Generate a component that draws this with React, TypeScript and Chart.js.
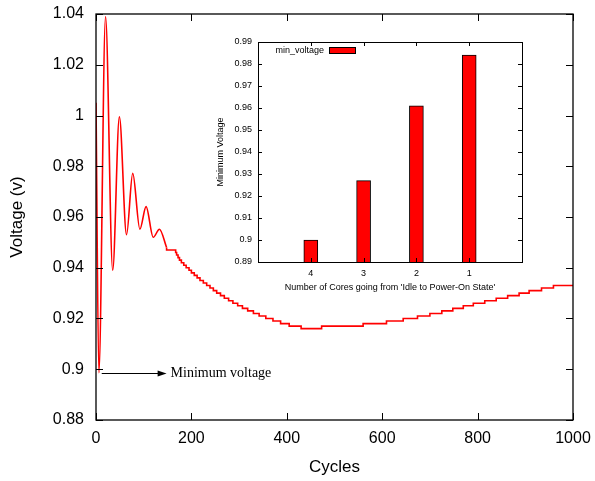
import { useEffect, useRef } from "react";
import { Chart, registerables } from "chart.js";

Chart.register(...registerables);

// ---- Main chart data (Cycles vs Voltage) ----
const oscCycles = [0, 6, 20, 35, 49, 64, 77, 92, 105, 120, 133, 148];
const oscVolts = [1.005, 0.8986, 1.039, 0.939, 0.9995, 0.953, 0.9772, 0.9552, 0.9641, 0.952, 0.9552, 0.948];

const stepCycles = [
  148, 167, 169, 172, 175, 179, 184, 189, 195, 200, 206, 212, 218, 225, 232, 239, 246, 253, 261, 269,
  278, 287, 297, 307, 318, 330, 342, 356, 371, 387, 405, 430, 473, 560, 609, 644, 674, 700, 725, 748,
  770, 791, 815, 839, 863, 887, 908, 934, 959, 983, 1000,
];
const stepVolts = [
  0.948, 0.947, 0.946, 0.945, 0.944, 0.943, 0.942, 0.941, 0.94, 0.939, 0.938, 0.937, 0.936, 0.935, 0.934,
  0.933, 0.932, 0.931, 0.93, 0.929, 0.928, 0.927, 0.926, 0.925, 0.924, 0.923, 0.922, 0.921, 0.92, 0.919,
  0.918, 0.917, 0.916, 0.917, 0.918, 0.919, 0.92, 0.921, 0.922, 0.923, 0.924, 0.925, 0.926, 0.927, 0.928,
  0.929, 0.93, 0.931, 0.932, 0.933, 0.933,
];

const xTitle = "Cycles";
const yTitle = "Voltage (v)";
const annotationText = "Minimum voltage";
const annotationFrom = 12;
const annotationTo = 148;

// ---- Inset data ----
const coreLabels = ["4", "3", "2", "1"];
const minVoltages = [0.9, 0.927, 0.961, 0.984];
const insetSeries = "min_voltage";
const insetXTitle = "Number of Cores going from 'Idle to Power-On State'";
const insetYTitle = "Minimum Voltage";

const SANS = "'Liberation Sans', Arial, Helvetica, sans-serif";
const SERIF = "'Liberation Serif', 'Times New Roman', serif";

const fmt = (v: number) => String(Number(Number(v).toFixed(3)));

const mainDecor = {
  id: "mainDecor",
  afterDraw(chart: any) {
    const { ctx, chartArea: a, scales } = chart;
    const xs = scales.x;
    const ys = scales.y;
    ctx.save();
    ctx.strokeStyle = "#000";
    ctx.lineWidth = 1;
    ctx.beginPath();
    xs.ticks.forEach((t: any) => {
      const p = Math.round(xs.getPixelForValue(t.value)) + 0.5;
      ctx.moveTo(p, a.bottom);
      ctx.lineTo(p, a.bottom - 7);
      ctx.moveTo(p, a.top);
      ctx.lineTo(p, a.top + 7);
    });
    ys.ticks.forEach((t: any) => {
      const p = Math.round(ys.getPixelForValue(t.value)) + 0.5;
      ctx.moveTo(a.left, p);
      ctx.lineTo(a.left + 7, p);
      ctx.moveTo(a.right, p);
      ctx.lineTo(a.right - 7, p);
    });
    ctx.stroke();
    ctx.lineWidth = 1.3;
    ctx.strokeRect(a.left, a.top, a.right - a.left, a.bottom - a.top);

    // annotation arrow
    const minV = Math.min(...oscVolts);
    const y = Math.round(ys.getPixelForValue(minV)) + 0.5;
    const x0 = xs.getPixelForValue(annotationFrom);
    const x1 = xs.getPixelForValue(annotationTo);
    ctx.lineWidth = 1;
    ctx.beginPath();
    ctx.moveTo(x0, y);
    ctx.lineTo(x1 - 6, y);
    ctx.stroke();
    ctx.fillStyle = "#000";
    ctx.beginPath();
    ctx.moveTo(x1, y);
    ctx.lineTo(x1 - 9, y - 3);
    ctx.lineTo(x1 - 9, y + 3);
    ctx.closePath();
    ctx.fill();
    ctx.font = `14px ${SERIF}`;
    ctx.textAlign = "left";
    ctx.textBaseline = "middle";
    ctx.fillText(annotationText, x1 + 4, y);

    // axis titles
    ctx.font = `17px ${SANS}`;
    ctx.textAlign = "center";
    ctx.textBaseline = "middle";
    ctx.fillText(xTitle, (a.left + a.right) / 2, 467);
    ctx.translate(17, (a.top + a.bottom) / 2);
    ctx.rotate(-Math.PI / 2);
    ctx.fillText(yTitle, 0, 0);
    ctx.restore();
  },
};

const insetDecor = {
  id: "insetDecor",
  afterDraw(chart: any) {
    const { ctx, chartArea: a, scales } = chart;
    const xs = scales.x;
    const ys = scales.y;
    ctx.save();
    ctx.strokeStyle = "#000";
    ctx.lineWidth = 1;
    ctx.beginPath();
    xs.ticks.forEach((t: any) => {
      if (t.value <= 0 || t.value >= 5) return;
      const p = Math.round(xs.getPixelForValue(t.value)) + 0.5;
      ctx.moveTo(p, a.bottom);
      ctx.lineTo(p, a.bottom - 4);
      ctx.moveTo(p, a.top);
      ctx.lineTo(p, a.top + 4);
    });
    ys.ticks.forEach((t: any) => {
      const p = Math.round(ys.getPixelForValue(t.value)) + 0.5;
      ctx.moveTo(a.left, p);
      ctx.lineTo(a.left + 4, p);
      ctx.moveTo(a.right, p);
      ctx.lineTo(a.right - 4, p);
    });
    ctx.stroke();
    ctx.strokeRect(Math.round(a.left) + 0.5, Math.round(a.top) + 0.5, Math.round(a.right - a.left), Math.round(a.bottom - a.top));

    // legend
    ctx.fillStyle = "#000";
    ctx.font = `9px ${SANS}`;
    ctx.textAlign = "right";
    ctx.textBaseline = "middle";
    ctx.fillText(insetSeries, 119, 21);
    ctx.fillStyle = "#ff0000";
    ctx.fillRect(124, 17, 26, 6);
    ctx.strokeRect(124.5, 17.5, 26, 6);

    // titles
    ctx.fillStyle = "#000";
    ctx.textAlign = "center";
    ctx.fillText(insetXTitle, (a.left + a.right) / 2, 258);
    ctx.translate(16, (a.top + a.bottom) / 2);
    ctx.rotate(-Math.PI / 2);
    ctx.fillText(insetYTitle, 0, 0);
    ctx.restore();
  },
};

export default function App() {
  const mainRef = useRef<HTMLCanvasElement>(null);
  const insetRef = useRef<HTMLCanvasElement>(null);

  useEffect(() => {
    const main = new Chart(mainRef.current as HTMLCanvasElement, {
      type: "line",
      data: {
        datasets: [
          {
            data: oscCycles.map((c, i) => ({ x: c, y: oscVolts[i] })),
            borderColor: "#ff0000",
            borderWidth: 1.6,
            pointRadius: 0,
            cubicInterpolationMode: "monotone",
            fill: false,
          },
          {
            data: stepCycles.map((c, i) => ({ x: c, y: stepVolts[i] })),
            borderColor: "#ff0000",
            borderWidth: 1.6,
            pointRadius: 0,
            stepped: "after",
            fill: false,
          },
        ],
      },
      options: {
        responsive: false,
        animation: false,
        layout: { padding: { left: 0, right: 22, top: 14, bottom: 0 } },
        plugins: { legend: { display: false }, tooltip: { enabled: false } },
        scales: {
          x: {
            type: "linear",
            min: 0,
            max: 1000,
            grid: { display: false, drawTicks: true, tickLength: 9 },
            border: { display: false },
            ticks: {
              stepSize: 200,
              color: "#000",
              font: { family: SANS, size: 16 },
              padding: 0,
              maxRotation: 0,
              callback: (v: any) => fmt(v),
            },
            afterFit: (s: any) => {
              s.height = 61;
            },
          },
          y: {
            type: "linear",
            min: 0.88,
            max: 1.04,
            grid: { display: false, drawTicks: true, tickLength: 12 },
            border: { display: false },
            ticks: { stepSize: 0.02, color: "#000", font: { family: SANS, size: 16 }, padding: 0, callback: (v: any) => fmt(v) },
            afterFit: (s: any) => {
              s.width = 96;
            },
          },
        },
      },
      plugins: [mainDecor],
    } as any);

    const inset = new Chart(insetRef.current as HTMLCanvasElement, {
      type: "bar",
      data: {
        datasets: [
          {
            label: insetSeries,
            data: coreLabels.map((_, i) => ({ x: i + 1, y: minVoltages[i] })),
            backgroundColor: "#ff0000",
            borderColor: "#000",
            borderWidth: 1,
            barThickness: 14,
            base: 0.89,
          },
        ],
      },
      options: {
        responsive: false,
        animation: false,
        layout: { padding: { left: 0, right: 13, top: 12, bottom: 0 } },
        plugins: { legend: { display: false }, tooltip: { enabled: false } },
        scales: {
          x: {
            type: "linear",
            min: 0,
            max: 5,
            offset: false,
            grid: { display: false, drawTicks: true, tickLength: 6, offset: false },
            border: { display: false },
            ticks: {
              stepSize: 1,
              autoSkip: false,
              color: "#000",
              font: { family: SANS, size: 9 },
              padding: 0,
              maxRotation: 0,
              callback: (v: any) => coreLabels[Number(v) - 1] ?? "",
            },
            afterFit: (s: any) => {
              s.height = 38;
            },
          },
          y: {
            type: "linear",
            min: 0.89,
            max: 0.99,
            grid: { display: false, drawTicks: true, tickLength: 6 },
            border: { display: false },
            ticks: { stepSize: 0.01, color: "#000", font: { family: SANS, size: 9 }, padding: 0, callback: (v: any) => fmt(v) },
            afterFit: (s: any) => {
              s.width = 53;
            },
          },
        },
      },
      plugins: [insetDecor],
    } as any);

    return () => {
      main.destroy();
      inset.destroy();
    };
  }, []);

  return (
    <div style={{ position: "fixed", left: 0, top: 0, width: 595, height: 481, background: "#fff" }}>
      <canvas ref={mainRef} width={595} height={481} style={{ position: "absolute", left: 0, top: 0 }} />
      <canvas ref={insetRef} width={330} height={270} style={{ position: "absolute", left: 205, top: 30 }} />
    </div>
  );
}
